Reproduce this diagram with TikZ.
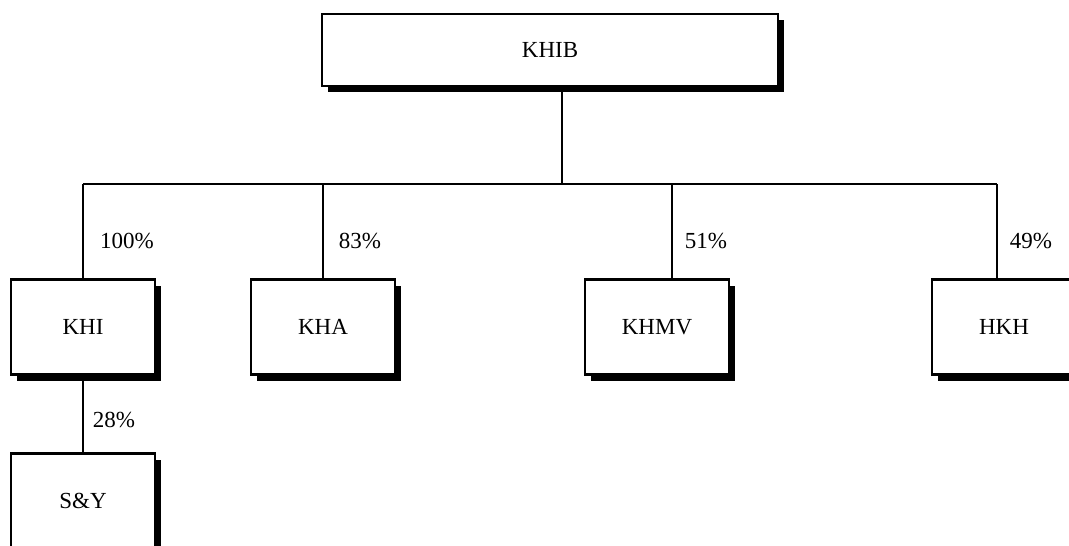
\documentclass[tikz,border=0pt]{standalone}
\usepackage{fontspec}
\setmainfont{Liberation Serif}
\usetikzlibrary{shadows,calc}
\begin{document}
\begin{tikzpicture}[x=1pt,y=-1pt,
  orgbox/.style={draw=black, line width=2.2pt, fill=white, rectangle, inner sep=0pt,
    minimum width=144pt, minimum height=95pt, font=\fontsize{23}{26}\selectfont,
    drop shadow={shadow xshift=6pt, shadow yshift=-6pt, fill=black, opacity=1}},
  conn/.style={line width=2.2pt},
  pct/.style={font=\fontsize{23}{26}\selectfont, inner sep=0pt}]
\useasboundingbox (0,0) rectangle (1069,546);
\node[orgbox, minimum width=456pt, minimum height=72pt] (khib) at (550,50) {KHIB};
\node[orgbox] (khi) at (83,327) {KHI};
\node[orgbox] (khA) at (323,327) {KHA};
\node[orgbox] (khmv) at (657,327) {KHMV};
\node[orgbox] (hkh) at (1004,327) {HKH};
\node[orgbox] (sy) at (83,501) {S\&Y};
\coordinate (top) at (562,184);
\coordinate (busL) at (83,184);
\coordinate (busR) at (997,184);
\draw[conn] (khib.south -| top) -- (top);
\draw[conn] (busL) -- (busR);
\draw[conn] (busL) -- (khi.north);
\draw[conn] (khA.north |- top) -- (khA.north);
\draw[conn] ($(khmv.north |- top)+(15,0)$) -- ($(khmv.north)+(15,0)$);
\draw[conn] (busR) -- (busR |- hkh.north);
\draw[conn] (khi.south) -- (sy.north);
\node[pct] (p1) at (127,241) {100\%};
\node[pct] (p2) at (360,241) {83\%};
\node[pct] (p3) at (706,241) {51\%};
\node[pct] (p4) at (1031,241) {49\%};
\node[pct] (p5) at (114,420) {28\%};
\end{tikzpicture}
\end{document}
